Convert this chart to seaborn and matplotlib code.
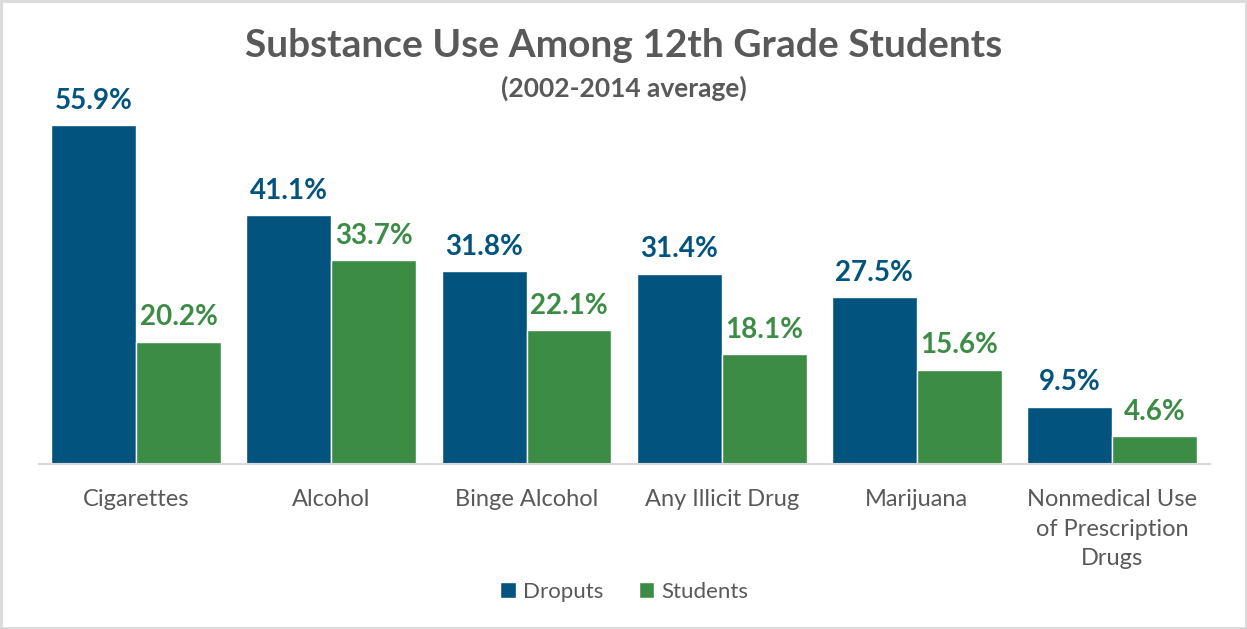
import numpy as np
import pandas as pd
import matplotlib.pyplot as plt
import seaborn as sns
from matplotlib.patches import Rectangle

# 数据
categories = ['Cigarettes', 'Alcohol', 'Binge Alcohol', 'Any Illicit Drug', 'Marijuana',
              'Nonmedical Use\nof Prescription\nDrugs']
dropouts = [55.9, 41.1, 31.8, 31.4, 27.5, 9.5]
students = [20.2, 33.7, 22.1, 18.1, 15.6, 4.6]
series_names = ['Droputs', 'Students']
colors = ['#02547E', '#3D8C46']

df = pd.DataFrame({
    'category': categories * 2,
    'value': dropouts + students,
    'group': [series_names[0]] * len(categories) + [series_names[1]] * len(categories),
})

sns.set_theme(style='white')
plt.rcParams['font.family'] = ['Lato', 'DejaVu Sans']

fig = plt.figure(figsize=(12.47, 6.29), dpi=100)
ax = fig.add_axes([0.031, 0.262, 0.939, 0.579])

sns.barplot(data=df, x='category', y='value', hue='group', palette=colors,
            width=0.87, gap=0, saturation=1, ax=ax, errorbar=None)

for cont, col in zip(ax.containers, colors):
    ax.bar_label(cont, fmt='%.1f%%', padding=8, color=col, fontsize=20, fontweight='bold')

ax.set_ylim(0, 60)
ax.set_xlim(-0.5, 5.5)
ax.set_yticks([])
ax.set_xlabel('')
ax.set_ylabel('')
for s in ['top', 'right', 'left']:
    ax.spines[s].set_visible(False)
ax.spines['bottom'].set_color('#D9D9D9')
ax.spines['bottom'].set_linewidth(1.5)
ax.tick_params(axis='x', length=0, pad=18, labelsize=17, labelcolor='#595959')
for lbl in ax.get_xticklabels():
    lbl.set_linespacing(1.5)

leg = ax.legend(loc='center', bbox_to_anchor=(0.5, -0.35), ncol=2, frameon=False,
                fontsize=16, handlelength=0.7, handleheight=0.7, handletextpad=0.3,
                columnspacing=1.6)
for t in leg.get_texts():
    t.set_color('#595959')

fig.text(0.5, 0.927, 'Substance Use Among 12th Grade Students', ha='center', va='center',
         fontsize=28, fontweight='bold', color='#595959')
fig.text(0.5, 0.86, '(2002-2014 average)', ha='center', va='center',
         fontsize=19, fontweight='bold', color='#595959')

fig.patches.append(Rectangle((0.001, 0.002), 0.998, 0.996, transform=fig.transFigure,
                             fill=False, edgecolor='#D9D9D9', linewidth=2))

plt.savefig('out.png', dpi=100)
